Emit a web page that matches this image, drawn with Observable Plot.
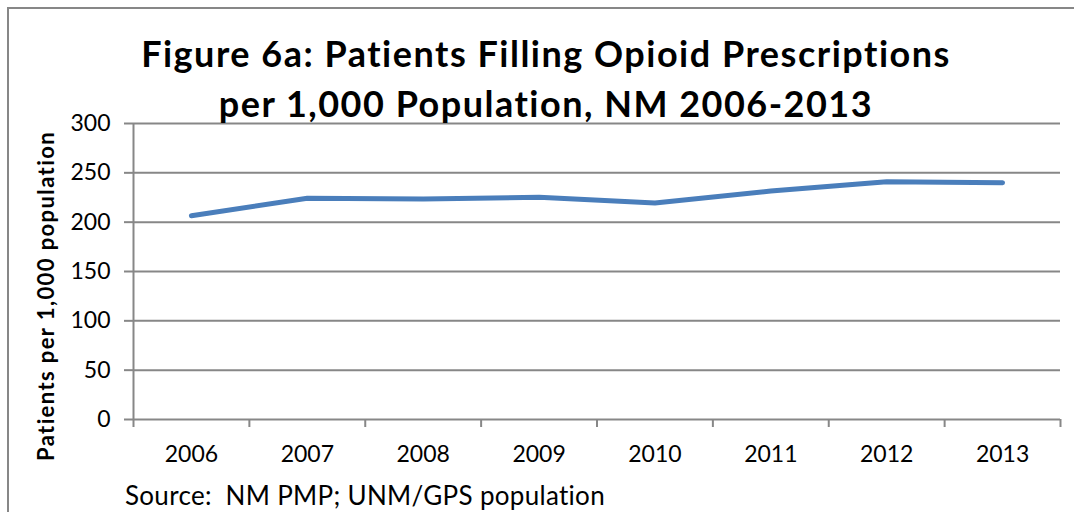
<!DOCTYPE html>
<html>
<head>
<meta charset="utf-8">
<script src="https://cdn.jsdelivr.net/npm/d3@7"></script>
<script src="https://cdn.jsdelivr.net/npm/@observablehq/plot@0.6"></script>
<style>
  html, body { margin: 0; padding: 0; background: #fff; overflow: hidden; }
  #wrap { position: relative; width: 1074px; height: 512px; overflow: hidden; font-family: Lato, "Open Sans", sans-serif; font-variant-ligatures: none; }
  #frame { position: absolute; left: 7px; top: 7px; width: 1200px; height: 700px; border: 2px solid #878787; box-sizing: border-box; }
  #chart { position: absolute; left: 0; top: 0; }
  #title { position: absolute; left: 0; width: 1092px; top: 28px; text-align: center; font-weight: bold; font-size: 36px; letter-spacing: 1.5px; line-height: 50px; color: #000; font-variant-ligatures: none; }
  #ylabel { position: absolute; left: 45px; top: 296px; transform: translate(-50%, -50%) rotate(-90deg); white-space: nowrap; font-weight: bold; font-size: 22px; letter-spacing: 1.4px; color: #000; font-variant-ligatures: none; }
  #source { position: absolute; left: 125px; top: 479px; white-space: pre; font-size: 26px; letter-spacing: 0.3px; color: #000; }
</style>
</head>
<body>
<div id="wrap">
  <div id="frame"></div>
  <div id="chart"></div>
  <div id="title">Figure 6a: Patients Filling Opioid Prescriptions<br>per 1,000 Population, NM 2006-2013</div>
  <div id="ylabel">Patients per 1,000 population</div>
  <div id="source">Source:  NM PMP; UNM/GPS population</div>
</div>
<script>
const years = [2006, 2007, 2008, 2009, 2010, 2011, 2012, 2013];
const patientsPer1000 = [206.5, 224.2, 223.6, 225.2, 219.5, 231.5, 241, 240];
const yTicks = [0, 50, 100, 150, 200, 250, 300];
const bandEdges = [2005.5, 2006.5, 2007.5, 2008.5, 2009.5, 2010.5, 2011.5, 2012.5, 2013.5];

const data = years.map((y, i) => ({year: y, value: patientsPer1000[i]}));
const gray = "#878787";

const chart = Plot.plot({
  width: 1074,
  height: 512,
  marginLeft: 133,
  marginRight: 14,
  marginTop: 123,
  marginBottom: 93,
  style: { fontFamily: "Lato, 'Open Sans', sans-serif", fontSize: "23px", color: "#000", background: "transparent" },
  x: { type: "linear", domain: [2005.5, 2013.5] },
  y: { domain: [0, 300] },
  marks: [
    Plot.ruleY(yTicks.filter(d => d > 0), { stroke: gray, strokeWidth: 2 }),
    Plot.ruleX([2005.5], { stroke: gray, strokeWidth: 2 }),
    Plot.ruleY([0], { stroke: gray, strokeWidth: 2 }),
    Plot.axisY({ ticks: yTicks, tickSize: 9, tickPadding: 14, tickFormat: d => String(d), label: null, stroke: gray, strokeWidth: 2, fill: "#000" }),
    Plot.axisX({ ticks: bandEdges, tickSize: 8, tickFormat: () => "", label: null, stroke: gray, strokeWidth: 2 }),
    Plot.axisX({ ticks: years, tickSize: 0, tickPadding: 26, tickFormat: d => String(d), label: null, fill: "#000" }),
    Plot.line(data, { x: "year", y: "value", stroke: "#4a7ebb", strokeWidth: 5, strokeLinecap: "round", strokeLinejoin: "round" })
  ]
});
document.getElementById("chart").appendChild(chart);
</script>
</body>
</html>
